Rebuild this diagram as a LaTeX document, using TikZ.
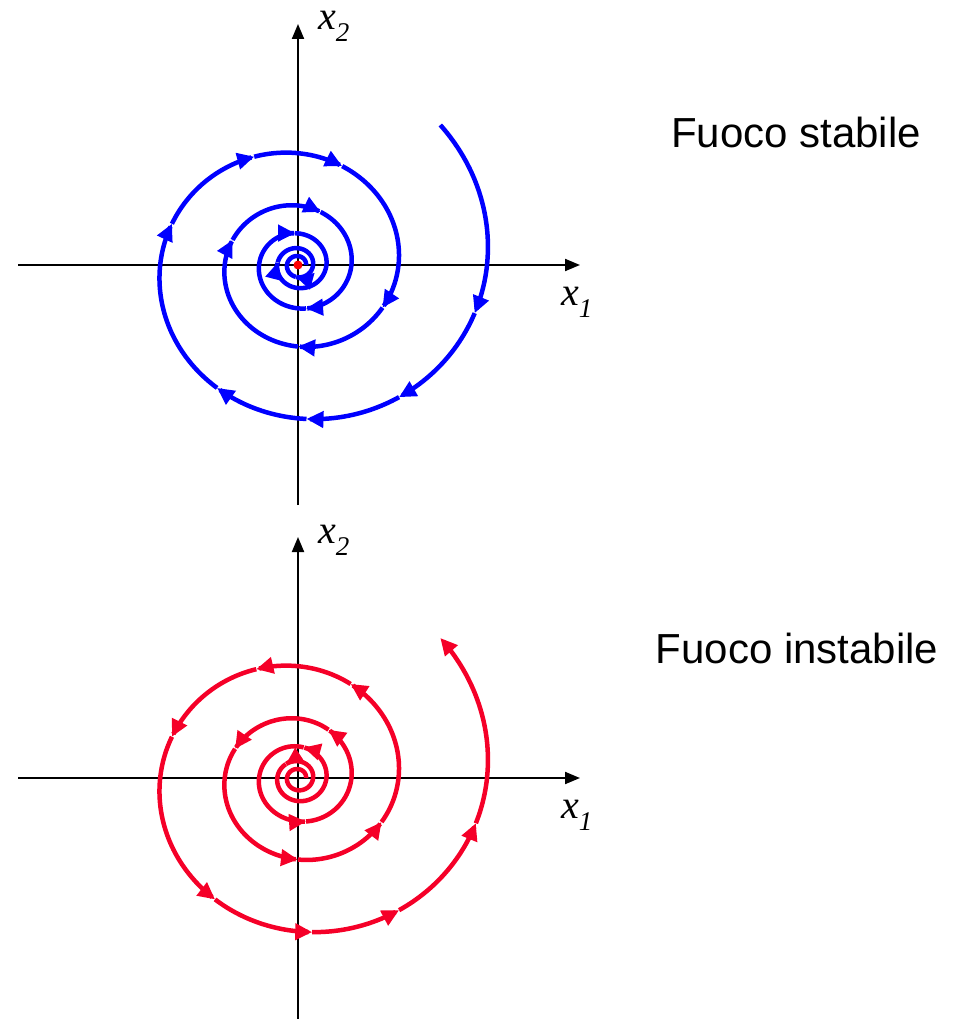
\documentclass[tikz,border=0pt]{standalone}
\usepackage{fontspec}
\setmainfont{Liberation Sans}
\newfontfamily\serifit{Liberation Serif}
\usetikzlibrary{arrows.meta}
\definecolor{spblue}{RGB}{0,0,255}
\definecolor{spred}{RGB}{245,0,40}
\tikzset{
  axisline/.style={line width=2pt, black, -{Triangle[length=15pt,width=12pt]}},
  spirline/.style={line width=4.5pt},
  tipped/.style={-{Triangle[length=17pt,width=16pt]}},
  caption/.style={font=\fontsize{42}{42}\selectfont, anchor=base, inner sep=0pt},
  axlabel/.style={anchor=base west, inner sep=0pt, font=\serifit\itshape\fontsize{40}{40}\selectfont}
}
% spiral segment: #1 options, #2 cx, #3 cy, #4 from angle, #5 to angle
\newcommand{\spseg}[5]{%
  \pgfmathsetmacro\ns{int(abs(#5-(#4))/1.5)+4}%
  \draw[spirline,#1] plot[domain=#4:#5, samples=\ns, variable=\t]
    ({#2+189*exp(0.0017488*\t)*cos(\t)},{#3-0.95*189*exp(0.0017488*\t)*sin(\t)});%
}
\begin{document}
\begin{tikzpicture}[x=1pt,y=-1pt]
\useasboundingbox (0,0) rectangle (958,1019);
% ---------- top: stable focus ----------
\coordinate (oA) at (298,265);
\coordinate (hA0) at (18,265);
\coordinate (hA1) at (580,265);
\coordinate (vA0) at (298,505);
\coordinate (vA1) at (298,24);
\draw[axisline] (hA0) -- (hA1);
\draw[axisline] (vA0) -- (vA1);
\node[axlabel] (x2a) at (318,30) {x\raisebox{-12pt}{\fontsize{27}{27}\selectfont 2}};
\node[axlabel] (x1a) at (561,305) {x\raisebox{-12pt}{\fontsize{27}{27}\selectfont 1}};
\node[caption] (capA) at (796,148) {Fuoco stabile};
\foreach \a/\b in {46/-16,-16/-54,-54/-87,-87/-122,-122/-199,-199/-249,-249/-293,-293/-388,-388/-450,-450/-562,-562/-652,-652/-800,-800/-985,-985/-1268,-1268/-1540}{
  \spseg{spblue,tipped}{298}{265}{\a}{\b}
}
\spseg{spblue}{298}{265}{-1540}{-1800}
\fill[red] (oA) circle (4.5);
% ---------- bottom: unstable focus ----------
\coordinate (oB) at (298,778);
\coordinate (hB0) at (18,778);
\coordinate (hB1) at (580,778);
\coordinate (vB0) at (298,1019);
\coordinate (vB1) at (298,537);
\draw[axisline] (hB0) -- (hB1);
\draw[axisline] (vB0) -- (vB1);
\node[axlabel] (x2b) at (318,543) {x\raisebox{-12pt}{\fontsize{27}{27}\selectfont 2}};
\node[axlabel] (x1b) at (561,818) {x\raisebox{-12pt}{\fontsize{27}{27}\selectfont 1}};
\node[caption] (capB) at (797,663) {Fuoco instabile};
\foreach \a/\b in {-1800/-1310,-1310/-1000,-1000/-800,-800/-661,-661/-566,-566/-450,-450/-389,-389/-298,-298/-250,-250/-199,-199/-123,-123/-85,-85/-54,-54/-15,-15/46}{
  \spseg{spred,tipped}{298}{778}{\a}{\b}
}
\end{tikzpicture}
\end{document}
